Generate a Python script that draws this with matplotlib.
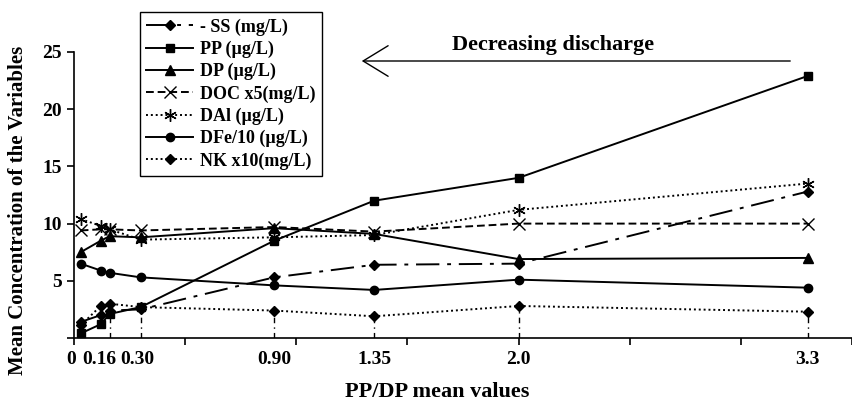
import numpy as np
import matplotlib
matplotlib.use("Agg")
import matplotlib.pyplot as plt
import matplotlib.transforms as mtransforms

plt.rcParams['font.family'] = ['Liberation Serif', 'DejaVu Serif']
plt.rcParams['font.weight'] = 'bold'

# PP/DP mean values (x positions of the samples)
ppdp = [0.03, 0.12, 0.16, 0.30, 0.90, 1.35, 2.0, 3.3]

# series
ss = [1.4, 2.0, 2.4, 2.5, 5.3, 6.4, 6.5, 12.8]
pp = [0.4, 1.2, 2.1, 2.7, 8.5, 12.0, 14.0, 22.9]
dp = [7.5, 8.5, 8.9, 8.8, 9.6, 9.1, 6.9, 7.0]
doc = [9.4, 9.5, 9.5, 9.4, 9.7, 9.3, 10.0, 10.0]
dal = [10.4, 9.8, 9.5, 8.6, 8.8, 9.0, 11.2, 13.5]
dfe = [6.5, 5.9, 5.7, 5.3, 4.6, 4.2, 5.1, 4.4]
nk = [1.1, 2.8, 3.0, 2.7, 2.4, 1.9, 2.8, 2.3]

# x axis labels (placed like the original, slightly left of the crowded points)
xtick_labels = ['0', '0.16', '0.30', '0.90', '1.35', '2.0', '3.3']
xtick_pos = [0, 0.112, 0.287, 0.90, 1.35, 2.0, 3.3]
drop_x = [0.16, 0.30, 0.90, 1.35, 2.0, 3.3]
drop_y = [3.0, 2.7, 2.4, 1.9, 2.8, 2.3]

fig = plt.figure(figsize=(8.52, 4.05), dpi=100)
ax = fig.add_axes([74/852, 1-338/405, 1-74/852, (338-52)/405])

# drop lines down to the axis
ax.vlines(drop_x, 0, drop_y, colors='black', linestyles=(0, (4, 3, 1, 3)), lw=1.0)

lw = 1.4
ax.plot(ppdp, ss, color='black', lw=lw, ls=(0, (12, 4, 2, 4)), marker='D', ms=5, label='- SS (mg/L)')
ax.plot(ppdp, pp, color='black', lw=lw, ls='-', marker='s', ms=6, label='PP (µg/L)')
ax.plot(ppdp, dp, color='black', lw=lw, ls='-', marker='^', ms=7, label='DP (µg/L)')
ax.plot(ppdp, doc, color='black', lw=lw, ls=(0, (4, 2)), marker='x', ms=8, mew=1.0, label='DOC x5(mg/L)')
ax.plot(ppdp, dal, color='black', lw=lw, ls=(0, (1, 1.5)), marker=(6, 2, 0), ms=9, mew=1.0, label='DAl (µg/L)')
ax.plot(ppdp, dfe, color='black', lw=lw, ls='-', marker='o', ms=6, label='DFe/10 (µg/L)')
ax.plot(ppdp, nk, color='black', lw=lw, ls=(0, (1, 1.5)), marker='D', ms=5, label='NK x10(mg/L)')

ax.set_xlim(0, (852-74)/224)
ax.set_ylim(0, 25)
ax.spines['top'].set_visible(False)
ax.spines['right'].set_visible(False)
ax.spines['left'].set_linewidth(1.2)
ax.spines['bottom'].set_linewidth(1.2)

ax.set_yticks([0, 5, 10, 15, 20, 25])
ax.set_yticklabels(['', '5', '10', '15', '20', '25'])
ax.tick_params(axis='y', direction='out', length=5, width=1.2, labelsize=14, pad=4)

ax.xaxis.remove_overlapping_locs = False
ax.set_xticks(np.arange(0, 3.51, 0.5))
ax.set_xticklabels([])
ax.set_xticks(xtick_pos, minor=True)
ax.set_xticklabels(xtick_labels, minor=True)
ax.tick_params(axis='x', which='major', direction='out', length=5, width=1.2)
ax.tick_params(axis='x', which='minor', length=0, labelsize=14, pad=9)
for t in ax.get_xticklabels(minor=True) + ax.get_yticklabels():
    t.set_fontweight('bold')
# nudge the "0" label a little to the left
zero_lab = ax.get_xticklabels(minor=True)[0]
zero_lab.set_transform(zero_lab.get_transform() +
                       mtransforms.ScaledTranslation(-3/100, 0, fig.dpi_scale_trans))

# decreasing discharge arrow
ax.annotate('', xy=(359, 405-61), xycoords='figure pixels',
            xytext=(793, 405-61), textcoords='figure pixels',
            arrowprops=dict(arrowstyle='->,head_length=1.8,head_width=1.1', color='black', lw=1.0))
fig.text(553/852, 1-45/405, 'Decreasing discharge', ha='center', va='center',
         fontsize=16, fontweight='bold')

fig.text(18/852, 1-210/405, 'Mean Concentration of the Variables', rotation=90,
         ha='center', va='center', fontsize=15, fontweight='bold')
fig.text(437/852, 1-392/405, 'PP/DP mean values', ha='center', va='center',
         fontsize=16, fontweight='bold')

leg = fig.legend(loc='upper left', bbox_to_anchor=(140/852, 1-12/405), borderaxespad=0,
                 fancybox=False, edgecolor='black', framealpha=1, fontsize=13,
                 handlelength=2.6, labelspacing=0.28, borderpad=0.35, handletextpad=0.4)
leg.get_frame().set_linewidth(1.0)
for t in leg.get_texts():
    t.set_fontweight('bold')

fig.savefig('out.png', dpi=100)
